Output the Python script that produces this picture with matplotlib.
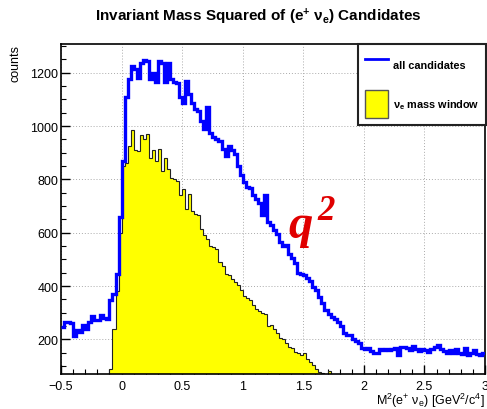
import numpy as np
import matplotlib.pyplot as plt
from matplotlib.lines import Line2D
from matplotlib.patches import Patch
from matplotlib.ticker import MultipleLocator, FuncFormatter

plt.rcParams['font.family'] = ['Liberation Sans', 'DejaVu Sans']
plt.rcParams['mathtext.fontset'] = 'custom'
plt.rcParams['mathtext.rm'] = 'Liberation Sans'
plt.rcParams['mathtext.it'] = 'Liberation Sans:italic'
plt.rcParams['mathtext.bf'] = 'Liberation Sans:bold'

# binning of the M^2 histograms (GeV^2/c^4)
m2_lo, m2_hi, n_bins = -0.5, 3.0, 140

# all (e+ nu_e) candidates
all_counts = [
    247, 266, 266, 262, 212, 235, 229, 252, 240, 266,
    288, 272, 271, 290, 280, 278, 346, 371, 445, 660,
    870, 1110, 1175, 1225, 1215, 1180, 1237, 1249, 1243, 1175,
    1200, 1165, 1243, 1237, 1165, 1237, 1175, 1165, 1160, 1110,
    1085, 1170, 1120, 1085, 1065, 1055, 1020, 990, 1070, 975,
    958, 950, 944, 915, 888, 925, 910, 895, 850, 815,
    790, 772, 768, 740, 728, 710, 665, 740, 640, 630,
    612, 595, 565, 550, 555, 520, 505, 485, 450, 445,
    440, 430, 420, 395, 385, 360, 335, 310, 295, 285,
    275, 265, 250, 225, 215, 215, 200, 192, 185, 168,
    165, 166, 158, 150, 148, 163, 160, 165, 160, 165,
    168, 140, 170, 172, 168, 160, 175, 165, 158, 165,
    160, 152, 165, 170, 178, 165, 155, 150, 160, 148,
    162, 150, 145, 168, 140, 150, 160, 145, 140, 150,
]

# candidates inside the nu_e mass window
window_counts = [
    0, 0, 0, 0, 0, 0, 0, 0, 0, 0,
    0, 0, 0, 0, 0, 0, 88, 240, 380, 600,
    850, 863, 925, 985, 910, 905, 965, 950, 969, 882,
    910, 870, 913, 830, 880, 840, 805, 800, 795, 740,
    763, 690, 745, 680, 670, 665, 614, 590, 575, 550,
    545, 540, 492, 475, 445, 440, 427, 415, 405, 385,
    362, 355, 346, 330, 315, 305, 300, 296, 250, 255,
    240, 222, 205, 200, 185, 172, 168, 152, 150, 140,
    150, 128, 115, 103, 90, 78, 72, 60, 80, 0,
    0, 0, 0, 0, 0, 0, 0, 0, 0, 0,
    0, 0, 0, 0, 0, 0, 0, 0, 0, 0,
    0, 0, 0, 0, 0, 0, 0, 0, 0, 0,
    0, 0, 0, 0, 0, 0, 0, 0, 0, 0,
    0, 0, 0, 0, 0, 0, 0, 0, 0, 0,
]

edges = np.linspace(m2_lo, m2_hi, n_bins + 1)

fig = plt.figure(figsize=(4.87, 4.10), dpi=100)
ax = fig.add_axes([61 / 487, 35 / 410, 424 / 487, 330 / 410])

ax.stairs(window_counts, edges, baseline=0, fill=True, color='#ffff00', zorder=2)
ax.stairs(window_counts, edges, baseline=0, color='#222222', lw=0.8, zorder=2.1)
ax.stairs(all_counts, edges, baseline=None, color='#0000ff', lw=2.4, zorder=3)

ax.set_xlim(m2_lo, m2_hi)
ax.set_ylim(70, 1308)

ax.xaxis.set_major_locator(MultipleLocator(0.5))
ax.xaxis.set_minor_locator(MultipleLocator(0.1))
ax.yaxis.set_major_locator(MultipleLocator(200))
ax.yaxis.set_minor_locator(MultipleLocator(50))
ax.xaxis.set_major_formatter(FuncFormatter(lambda v, p: f'{v:g}'.replace('-', '\u2212')))
ax.tick_params(which='both', direction='in', top=False, right=False, labelsize=9, color='black')
ax.tick_params(which='major', length=6.5, width=1)
ax.tick_params(which='minor', length=3.6, width=0.8)
ax.tick_params(axis='x', pad=4)
ax.tick_params(axis='y', pad=2)

ax.set_axisbelow(True)
ax.grid(True, which='major', color='#aaaaaa', linestyle=(0, (1, 2)), lw=0.7)
for sp in ax.spines.values():
    sp.set_linewidth(1.2)

ax.set_xlabel('M$^{2}$(e$^{+}$ ν$_{\\mathrm{e}}$) [GeV$^{2}$/c$^{4}$]', loc='right', fontsize=9)
ax.xaxis.set_label_coords(1.0, -0.052)
ax.set_ylabel('counts', loc='top', fontsize=9)
ax.yaxis.set_label_coords(-0.094, 1.0)

fig.text(258 / 487, 1 - 17 / 410, 'Invariant Mass Squared of (e$^{\\mathbf{+}}$ ν$_{\\mathbf{e}}$) Candidates',
         ha='center', va='center', fontsize=11, weight='bold')

# q^2 annotation
ax.text(1.373, 584, 'q', family='Liberation Serif', style='italic', weight='bold',
        size=35, color='#e00000', ha='left', va='baseline', zorder=4)
ax.text(1.62, 651, '2', family='Liberation Serif', style='italic', weight='bold',
        size=25, color='#e00000', ha='left', va='baseline', zorder=4)

handles = [Line2D([], [], color='#0000ff', lw=2),
           Patch(facecolor='#ffff00', edgecolor='#555555', lw=1)]
leg = ax.legend(handles, ['all candidates', 'ν$_{\\mathbf{e}}$ mass window'],
                loc='upper right', bbox_to_anchor=(486 / 487, 1 - 45 / 410),
                bbox_transform=fig.transFigure, borderaxespad=0,
                prop={'weight': 'bold', 'size': 7.8}, handlelength=2.1,
                handleheight=3.6, labelspacing=1.1, handletextpad=0.5,
                borderpad=0.6, fancybox=False, framealpha=1, edgecolor='#222222')
leg.get_frame().set_linewidth(1.5)
leg.set_zorder(5)

fig.savefig('out.png', dpi=100)
